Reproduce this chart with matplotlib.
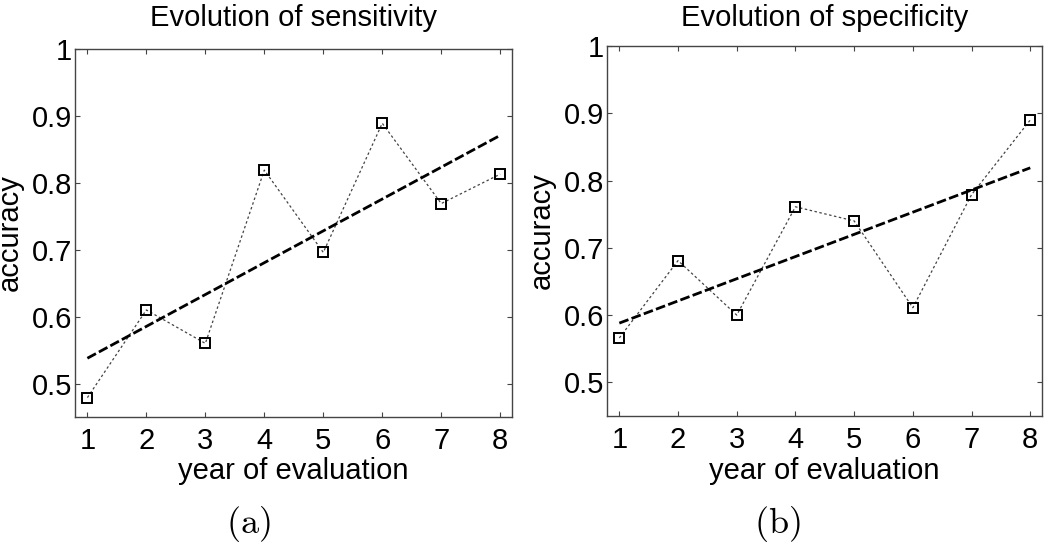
import numpy as np
import matplotlib.pyplot as plt

plt.rcParams['font.family'] = ['Liberation Sans', 'DejaVu Sans']
plt.rcParams['mathtext.fontset'] = 'cm'

years = [1, 2, 3, 4, 5, 6, 7, 8]
sensitivity = [0.479, 0.610, 0.560, 0.819, 0.696, 0.889, 0.769, 0.813]
specificity = [0.566, 0.681, 0.600, 0.761, 0.740, 0.611, 0.779, 0.890]

titles = ["Evolution of sensitivity", "Evolution of specificity"]
panel_tags = ["(a)", "(b)"]
yticks = [0.5, 0.6, 0.7, 0.8, 0.9, 1.0]
yticklabels = ["0.5", "0.6", "0.7", "0.8", "0.9", "1"]

W, H = 1050, 545
fig = plt.figure(figsize=(W / 100, H / 100), dpi=100)

# axes boxes in pixels: left, top, right, bottom
boxes = [(75, 49, 512, 417), (607, 46, 1042, 416)]
tag_x = [248, 777]
ylab_x = [18, 550]   # baseline of the rotated y label

for box, vals, title, tag, tx, yx in zip(boxes, [sensitivity, specificity], titles,
                                         panel_tags, tag_x, ylab_x):
    l, t, r, b = box
    ax = fig.add_axes([l / W, 1 - b / H, (r - l) / W, (b - t) / H])
    x = np.array(years)
    y = np.array(vals)
    ax.plot(x, y, color='#444444', linewidth=0.9, dashes=(2, 2),
            marker='s', markersize=6.5, markerfacecolor='none',
            markeredgecolor='black', markeredgewidth=1.4)
    # least squares trend line
    k, c = np.polyfit(x, y, 1)
    ax.plot(x, k * x + c, color='black', linewidth=2.0, dashes=(3.5, 1.2))

    ax.set_xlim(0.79, 8.2)
    ax.set_ylim(0.45, 1.0)
    ax.set_xticks(years)
    ax.set_yticks(yticks)
    ax.set_yticklabels(yticklabels)
    ax.tick_params(direction='in', length=3.5, width=0.8, labelsize=21,
                   top=True, right=True, color='#444444')
    ax.tick_params(axis='x', pad=7.5)
    ax.tick_params(axis='y', pad=2)
    for s in ax.spines.values():
        s.set_color('#444444')
        s.set_linewidth(1.0)
    ax.set_title(title, fontsize=21, pad=(t - 26) * 0.72)
    ax.set_xlabel("year of evaluation", fontsize=21, va='baseline')
    ax.xaxis.set_label_coords(0.5, -(479 - b) / (b - t))
    ax.set_ylabel("accuracy", fontsize=21, va='baseline')
    ax.yaxis.set_label_coords((yx - l) / (r - l), 0.5)
    fig.text(tx / W, 1 - 533 / H, r"$\mathrm{" + tag + "}$", fontsize=26,
             ha='center', va='baseline')

fig.savefig("out.png", dpi=100)
